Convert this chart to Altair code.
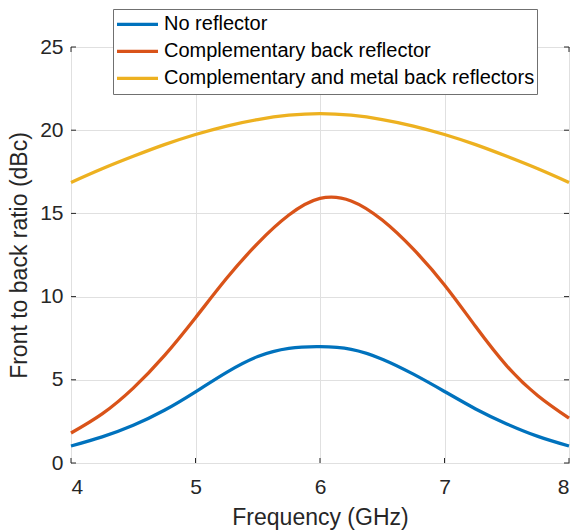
import altair as alt
import pandas as pd

freq = [4.0, 4.25, 4.5, 4.75, 5.0, 5.25, 5.5, 5.75, 6.0, 6.25, 6.5, 6.75, 7.0, 7.25, 7.5, 7.75, 8.0]
no_reflector = [1.02, 1.57, 2.27, 3.17, 4.28, 5.45, 6.4, 6.89, 6.99, 6.83, 6.24, 5.34, 4.3, 3.25, 2.35, 1.6, 1.02]
comp_back = [1.8, 2.95, 4.5, 6.45, 8.73, 11.1, 13.2, 14.9, 15.9, 15.75, 14.6, 12.85, 10.7, 8.2, 5.84, 4.04, 2.69]
comp_metal = [16.86, 17.68, 18.43, 19.13, 19.74, 20.25, 20.64, 20.9, 21.0, 20.9, 20.64, 20.25, 19.74, 19.13, 18.43, 17.68, 16.86]

series_names = ["No reflector", "Complementary back reflector",
                "Complementary and metal back reflectors"]
series_colors = ["#0072BD", "#D95319", "#EDB120"]
x_ticks = [4, 5, 6, 7, 8]
y_ticks = [0, 5, 10, 15, 20, 25]

rows = []
for name, vals in zip(series_names, [no_reflector, comp_back, comp_metal]):
    for f, v in zip(freq, vals):
        rows.append({"freq": f, "ratio": v, "series": name})
df = pd.DataFrame(rows)

W, H = 498, 416
FONT = "Liberation Sans"
AX = "#262626"
GRID = "#e0e0e0"

xscale = alt.Scale(domain=[4, 8], nice=False, zero=False)
yscale = alt.Scale(domain=[0, 25], nice=False)

xaxis = alt.Axis(
    values=x_ticks, grid=True, gridColor=GRID, ticks=False, domain=False,
    labelFont=FONT, labelFontSize=21, labelColor=AX, labelPadding=13,
    title="Frequency (GHz)", titleFont=FONT, titleFontSize=23,
    titleFontWeight="normal", titleColor=AX, titleBaseline="alphabetic",
    titleY=61)
yaxis = alt.Axis(
    values=y_ticks, grid=True, gridColor=GRID, ticks=False, domain=False,
    labelFont=FONT, labelFontSize=21, labelColor=AX, labelPadding=8,
    title="Front to back ratio (dBc)", titleFont=FONT, titleFontSize=23,
    titleFontWeight="normal", titleColor=AX, titleBaseline="alphabetic",
    titleX=-45)

lines = alt.Chart(df).mark_line(strokeWidth=3.3, interpolate="natural").encode(
    x=alt.X("freq:Q", scale=xscale, axis=xaxis),
    y=alt.Y("ratio:Q", scale=yscale, axis=yaxis),
    color=alt.Color("series:N", sort=series_names,
                    scale=alt.Scale(domain=series_names, range=series_colors),
                    legend=alt.Legend(
                        orient="none", legendX=42, legendY=-38, title=None,
                        symbolType="stroke", symbolSize=1681, symbolStrokeWidth=3.3,
                        labelFont=FONT, labelFontSize=20, labelColor="#000000",
                        labelLimit=600, labelOffset=4, padding=2,
                        strokeColor="#707070", fillColor="white",
                        rowPadding=0, clipHeight=26.6)),
)

xt = pd.DataFrame({"t": x_ticks})
yt = pd.DataFrame({"t": y_ticks})
tick_len = 5
xb = alt.Chart(xt).mark_rule(color=AX, strokeWidth=1).encode(
    x=alt.X("t:Q", scale=xscale, axis=xaxis), y=alt.value(H), y2=alt.value(H - tick_len))
xtop = alt.Chart(xt).mark_rule(color=AX, strokeWidth=1).encode(
    x=alt.X("t:Q", scale=xscale, axis=xaxis), y=alt.value(0), y2=alt.value(tick_len))
yl = alt.Chart(yt).mark_rule(color=AX, strokeWidth=1).encode(
    y=alt.Y("t:Q", scale=yscale, axis=yaxis), x=alt.value(0), x2=alt.value(tick_len))
yr = alt.Chart(yt).mark_rule(color=AX, strokeWidth=1).encode(
    y=alt.Y("t:Q", scale=yscale, axis=yaxis), x=alt.value(W), x2=alt.value(W - tick_len))

chart = alt.layer(xb, xtop, yl, yr, lines).properties(
    width=W, height=H,
    background="white",
    autosize=alt.AutoSizeParams(type="none"),
    padding={"left": 71, "top": 47, "right": 6, "bottom": 68},
).configure_view(stroke=AX, strokeWidth=1)

chart.save("out.html", embed_options={"renderer": "svg", "actions": False})
